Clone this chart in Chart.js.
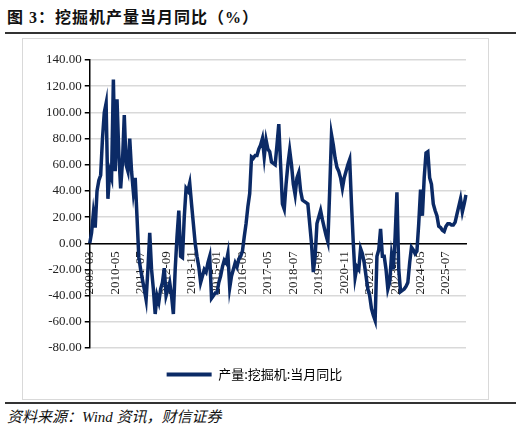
<!DOCTYPE html>
<html>
<head>
<meta charset="utf-8">
<script src="https://cdn.jsdelivr.net/npm/chart.js@4"></script>
<style>
  body { margin: 0; width: 522px; height: 431px; background: #fff; position: relative; overflow: hidden;
         font-family: "Liberation Serif", "Noto Sans CJK SC", serif; }
  #title { position: absolute; left: 7px; top: 4px; font-size: 16px; font-weight: bold; color: #111;
           font-family: "Liberation Serif", "Noto Sans CJK SC", serif; letter-spacing: 1px; }
  .rule { position: absolute; left: 5px; width: 511px; height: 2px; background: #333; }
  #box { position: absolute; left: 22px; top: 38px; width: 465px; height: 360px; border: 1px solid #d9d9d9; }
  #src { position: absolute; left: 7px; top: 405px; font-size: 15px; font-style: italic; color: #111;
         font-family: "Liberation Serif", "Noto Sans CJK SC", serif; }
</style>
</head>
<body>
<div id="title">图 3：挖掘机产量当月同比（%）</div>
<div class="rule" style="top:32px"></div>
<div id="box"><canvas id="c" width="465" height="360"></canvas></div>
<div class="rule" style="top:402px"></div>
<div id="src">资料来源：Wind 资讯，财信证券</div>
<script>
// monthly, from 2009-03
const startYear = 2009, startMonth = 3;
const seriesName = '产量:挖掘机:当月同比';
const values = [
  0, 8, 23, 12, 40, 48, 52, 80, 100, 107, 34, 55,
  50, 125, 55, 110, 68, 42, 62, 98, 60, 55, 80, 55,
  39, 50, 20, -11, -20, -28, -35, -43, -20, 8, -20, -35,
  -54, -40, -45, -35, -30, -19, -40, -35, -30, -40, -54, -20,
  5, 25, -10, -11, 20, 42, 40, 46, 30, 15, 0, -10,
  -18, -30, -25, -20, -22, -15, -10, -42, -40, -38, -38, -30,
  -25, -18, -13, -15, -8, -34, -25, -20, -15, -18, -12, -10,
  -6, 5, 15, 28, 38, 66, 65, 67, 67, 72, 75, 80,
  66, 79, 72, 70, 62, 61, 60, 75, 91, 60, 30, 26,
  45, 60, 71, 60, 45, 37, 50, 54, 40, 33, 32, 31,
  30, 15, 0, -22, -10, 15, 20, 25, 18, 12, 6, 1,
  40, 83, 75, 65, 58, 55, 50, 42, 50, 55, 60, 64,
  30, 0, -26, -18, -20, -4, -8, -15, -25, -35, -40, -50,
  -55, -59, -10, -5, 11, -10, -10, -20, -35, -30, -10, -20,
  5, 39, -20, -37, -36, -35, -33, -30, -15, -3, -5, -8,
  -6, 15, 41, 21, 50, 69, 70, 50, 45, 30, 25, 21,
  13, 12, 10, 9, 13, 15, 15, 14, 14, 16, 22, 28,
  34, 24, 30, 37
];
const yMin = -80, yMax = 140, yStep = 20;
const labelEvery = 14;

const labels = values.map((v, i) => {
  const m = startMonth - 1 + i;
  const y = startYear + Math.floor(m / 12);
  return y + '-' + String(m % 12 + 1).padStart(2, '0');
});

new Chart(document.getElementById('c').getContext('2d'), {
  type: 'line',
  data: {
    labels: labels,
    datasets: [{
      label: seriesName,
      data: values,
      borderColor: '#0b2a66',
      borderWidth: 3.5,
      pointRadius: 0,
      tension: 0,
      fill: false
    }]
  },
  options: {
    responsive: false,
    animation: false,
    layout: { padding: { left: 20, right: 22, top: 21, bottom: 8 } },
    plugins: {
      legend: {
        position: 'bottom',
        labels: {
          color: '#222', boxWidth: 45, boxHeight: 4, useBorderRadius: true, borderRadius: 2, padding: 20,
          font: { family: '"Noto Sans CJK SC"', size: 13 },
          generateLabels: (chart) => [{ text: seriesName, fillStyle: '#0b2a66', strokeStyle: '#0b2a66', lineWidth: 0 }]
        }
      },
      tooltip: { enabled: false }
    },
    scales: {
      x: {
        position: { y: 0 },
        grid: { display: false, drawTicks: true, tickLength: 5, color: '#000' },
        border: { color: '#000', width: 1.5 },
        ticks: {
          autoSkip: false, maxRotation: 90, minRotation: 90, color: '#222',
          font: { family: '"Liberation Serif"', size: 13 },
          callback: function (val, i) { return i % labelEvery === 0 ? labels[i] : ''; }
        }
      },
      y: {
        min: yMin, max: yMax,
        ticks: { stepSize: yStep, color: '#222', font: { family: '"Liberation Serif"', size: 13 },
                 callback: v => v.toFixed(2) },
        grid: { color: '#d9d9d9', lineWidth: 1.5, tickLength: 5, tickColor: '#000' },
        border: { color: '#000', width: 1.5 }
      }
    }
  }
});
</script>
</body>
</html>
